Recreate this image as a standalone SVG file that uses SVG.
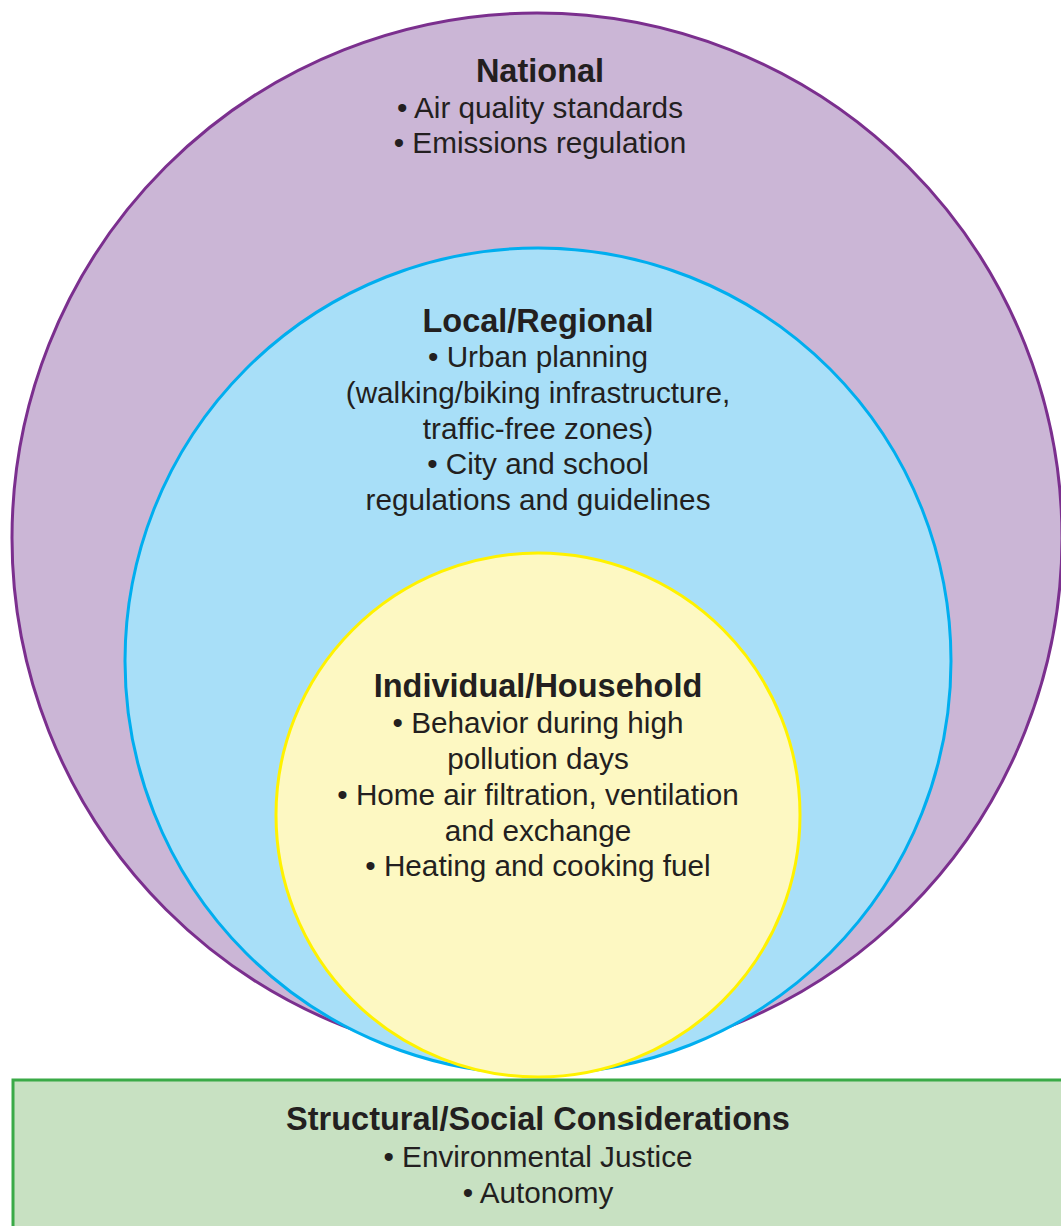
<svg xmlns="http://www.w3.org/2000/svg" width="1061" height="1226" viewBox="0 0 1061 1226">
<style>
text{font-family:"Liberation Sans",Arial,sans-serif;font-size:29.7px;fill:#231f20;text-anchor:middle}
.h{font-weight:bold;font-size:32.5px}
</style>
<rect width="1061" height="1226" fill="#ffffff"/>
<g id="national">
<circle cx="537" cy="538" r="525" fill="#cbb6d6" stroke="#7b2f8e" stroke-width="3"/>
<text class="h" x="540" y="82">National</text>
<text x="540" y="118">• Air quality standards</text>
<text x="540" y="153">• Emissions regulation</text>
</g>
<g id="local">
<circle cx="538" cy="661" r="413" fill="#a8dff8" stroke="#00aeef" stroke-width="3"/>
<text class="h" x="538" y="332">Local/Regional</text>
<text x="538" y="367">• Urban planning</text>
<text x="538" y="403">(walking/biking infrastructure,</text>
<text x="538" y="439">traffic-free zones)</text>
<text x="538" y="474">• City and school</text>
<text x="538" y="510">regulations and guidelines</text>
</g>
<g id="individual">
<circle cx="538" cy="815" r="262" fill="#fdf8c2" stroke="#fff200" stroke-width="3"/>
<text class="h" x="538" y="697">Individual/Household</text>
<text x="538" y="733">• Behavior during high</text>
<text x="538" y="769">pollution days</text>
<text x="538" y="805">• Home air filtration, ventilation</text>
<text x="538" y="841">and exchange</text>
<text x="538" y="876">• Heating and cooking fuel</text>
</g>
<g id="structural">
<rect x="13" y="1080" width="1060" height="160" fill="#c8e1c2" stroke="#3aaa47" stroke-width="3"/>
<text class="h" x="538" y="1130">Structural/Social Considerations</text>
<text x="538" y="1167">• Environmental Justice</text>
<text x="538" y="1203">• Autonomy</text>
</g>
<g id="connectors"/>
</svg>
